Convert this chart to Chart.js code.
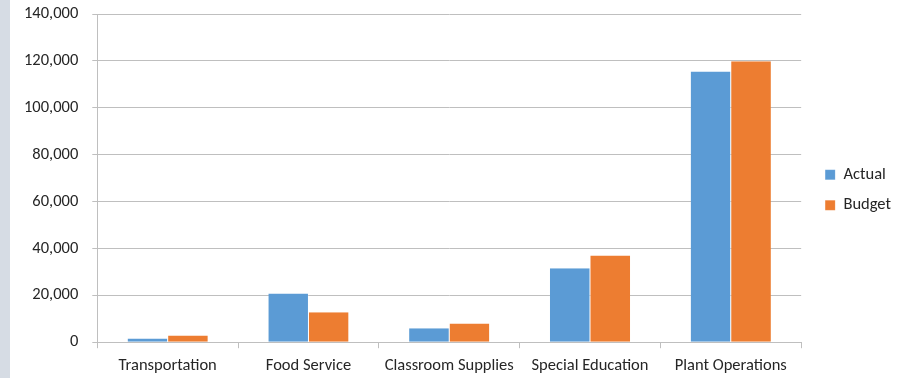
<!DOCTYPE html>
<html>
<head>
<meta charset="utf-8">
<script src="https://cdn.jsdelivr.net/npm/chart.js@4.4.0/dist/chart.umd.min.js"></script>
<style>
  body { margin: 0; background: #fff; }
  #wrap { width: 901px; height: 378px; border-left: 10px solid #d6dce4; }
</style>
</head>
<body>
<div id="wrap"><canvas id="budget-chart" width="901" height="378"></canvas></div>
<script>
// categories and series
const categories = ["Transportation", "Food Service", "Classroom Supplies", "Special Education", "Plant Operations"];
const actualValues = [1600, 20800, 6000, 31500, 115500];
const budgetValues = [2900, 12800, 8000, 37000, 119800];
const yTicks = [0, 20000, 40000, 60000, 80000, 100000, 120000, 140000];

const fontFamily = "Carlito, Lato, 'Open Sans', sans-serif";
Chart.defaults.font.family = fontFamily;
Chart.defaults.font.size = 16.5;
Chart.defaults.color = "#262626";

// nudge the legend a little to the right and up, like the original
const legendShift = {
  id: "legendShift",
  afterLayout(chart) {
    const lg = chart.legend;
    lg.left += 10; lg.right += 10;
    lg.top -= 2; lg.bottom -= 2;
  },
};

// data object
const budgetData = {
  labels: categories,
  datasets: [
    {
      label: "Actual",
      data: actualValues,
      backgroundColor: "#5b9bd5",
      borderColor: "#ffffff",
      borderWidth: { left: 0, right: 0.5, top: 0, bottom: 0 },
      categoryPercentage: 0.57,
      barPercentage: 1,
    },
    {
      label: "Budget",
      data: budgetValues,
      backgroundColor: "#ed7d31",
      borderColor: "#ffffff",
      borderWidth: { left: 0.5, right: 0, top: 0, bottom: 0 },
      categoryPercentage: 0.57,
      barPercentage: 1,
    },
  ],
};

// config object
const budgetConfig = {
  type: "bar",
  data: budgetData,
  plugins: [legendShift],
  options: {
    responsive: false,
    animation: false,
    layout: { padding: { top: 0, right: 20, left: 0, bottom: -6 } },
    plugins: {
      tooltip: { enabled: false },
      legend: {
        position: "right",
        labels: {
          boxWidth: 10,
          boxHeight: 10,
          padding: 14,
          color: "#262626",
        },
      },
    },
    scales: {
      x: {
        grid: { drawOnChartArea: false, offset: true, tickLength: 6, color: "#bfbfbf" },
        border: { color: "#bfbfbf" },
        ticks: { padding: 8, color: "#262626" },
      },
      y: {
        min: 0,
        max: 140000,
        afterBuildTicks: (axis) => { axis.ticks = yTicks.map(v => ({ value: v })); },
        afterFit: (axis) => { axis.paddingTop = 14; }, // top gridline sits near the top edge
        grid: { color: "#bfbfbf", tickLength: 5 },
        border: { color: "#bfbfbf" },
        ticks: {
          padding: 14,
          color: "#262626",
          callback: (v) => v.toLocaleString("en-US"),
        },
      },
    },
  },
};

// create and render the chart
const budgetChart = new Chart(document.getElementById("budget-chart"), budgetConfig);
</script>
</body>
</html>
